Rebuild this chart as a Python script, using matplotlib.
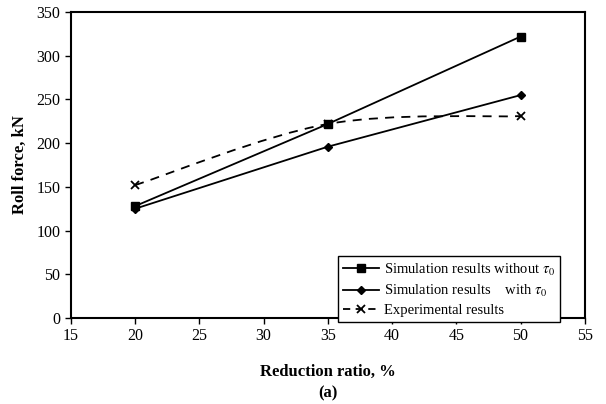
import numpy as np
import matplotlib
matplotlib.use("Agg")
import matplotlib.pyplot as plt
from matplotlib.path import Path
from matplotlib.patches import PathPatch
from matplotlib.lines import Line2D

plt.rcParams['font.family'] = ['Liberation Serif', 'DejaVu Serif']
plt.rcParams['mathtext.fontset'] = 'stix'

# data
ratio = [20, 35, 50]
sim_without = [128, 222, 322]
sim_with = [125, 196, 255]
experimental = [152, 222, 231]

fig = plt.figure(figsize=(6.06, 4.04), dpi=100)
ax = fig.add_axes([0.117, 0.213, 0.848, 0.757])

ax.plot(ratio, sim_without, color='black', lw=1.3, marker='s', ms=5.5)
ax.plot(ratio, sim_with, color='black', lw=1.3, marker='D', ms=4)

# smoothed dashed line (Catmull-Rom style bezier through the points)
pts = np.column_stack([ratio, experimental]).astype(float)
ext = np.vstack([pts[0], pts, pts[-1]])
verts = [tuple(pts[0])]
codes = [Path.MOVETO]
for i in range(1, len(ext) - 2):
    p0, p1, p2, p3 = ext[i - 1], ext[i], ext[i + 1], ext[i + 2]
    verts += [tuple(p1 + (p2 - p0) / 6), tuple(p2 - (p3 - p1) / 6), tuple(p2)]
    codes += [Path.CURVE4] * 3
ax.add_patch(PathPatch(Path(verts, codes), fill=False, ls=(0, (5, 4)),
                       lw=1.3, color='black'))
ax.plot(ratio, experimental, ls='none', marker='x', color='black', ms=6, mew=1.3)

ax.set_xlim(15, 55)
ax.set_ylim(0, 350)
ax.set_xticks(range(15, 56, 5))
ax.set_yticks(range(0, 351, 50))
ax.tick_params(direction='out', length=4, width=1, labelsize=11.5, color='black')
for s in ax.spines.values():
    s.set_linewidth(1.5)

ax.set_xlabel('Reduction ratio, %\n(a)', fontsize=12, fontweight='bold', labelpad=14,
              linespacing=1.5)
ax.set_ylabel('Roll force, kN', fontsize=12, fontweight='bold', labelpad=6)

handles = [
    Line2D([], [], color='black', lw=1.3, marker='s', ms=5.5),
    Line2D([], [], color='black', lw=1.3, marker='D', ms=4),
    Line2D([], [], color='black', lw=1.3, ls=(0, (4, 3)), marker='x', ms=6, mew=1.3),
]
labels = [r'Simulation results without $\tau_0$',
          r'Simulation results    with $\tau_0$',
          'Experimental results']
leg = ax.legend(handles, labels, loc='lower right', bbox_to_anchor=(0.951, -0.014),
                fontsize=10.5, frameon=True, fancybox=False, edgecolor='black',
                framealpha=1, borderpad=0.35, labelspacing=0.35, handlelength=2.5,
                handletextpad=0.3, borderaxespad=0)
leg.get_frame().set_linewidth(1.0)
leg.set_zorder(5)

fig.savefig('out.png', dpi=100)
